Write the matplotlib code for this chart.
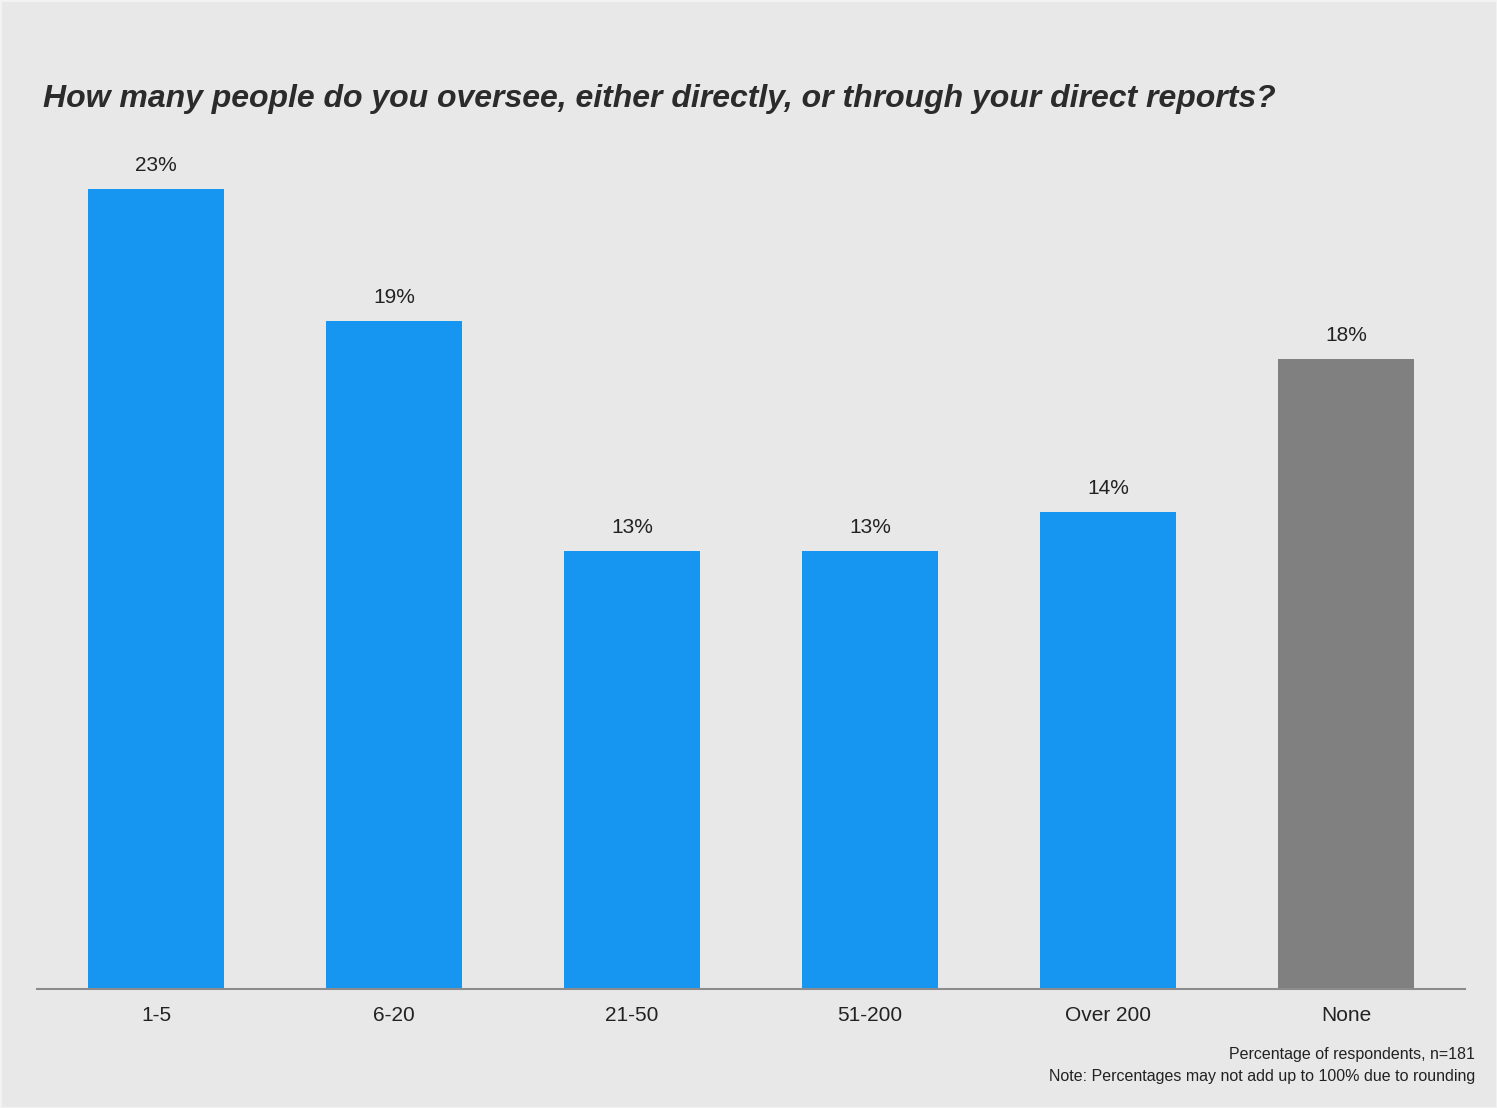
import matplotlib
matplotlib.use("Agg")
import matplotlib.pyplot as plt
from matplotlib.patches import Rectangle

# survey answers, percentage of respondents
categories = ["1-5", "6-20", "21-50", "51-200", "Over 200", "None"]
values = [23.0, 19.2, 12.6, 12.6, 13.7, 18.1]
bar_colors = ["#1696f0"] * 5 + ["#808080"]

title = "How many people do you oversee, either directly, or through your direct reports?"
note1 = "Percentage of respondents, n=181"
note2 = "Note: Percentages may not add up to 100% due to rounding"

bg = "#e8e8e8"
plt.rcParams['font.family'] = ['Liberation Sans', 'DejaVu Sans']

fig = plt.figure(figsize=(14.97, 11.08), dpi=100, facecolor=bg)
fig.patches.append(Rectangle((0, 0), 1, 1, transform=fig.transFigure,
                             fill=False, edgecolor="#f4f4f4", linewidth=2))

ax = fig.add_axes([37 / 1497, 119 / 1108, 1428 / 1497, 852.6 / 1108])
ax.set_facecolor(bg)

x = range(len(categories))
bars = ax.bar(x, values, width=0.571, color=bar_colors, zorder=2)
for b, v in zip(bars, values):
    ax.annotate(f"{v:.0f}%", (b.get_x() + b.get_width() / 2, v),
                xytext=(0, 10), textcoords="offset points",
                ha="center", va="bottom", fontsize=15, color="#222222")

ax.set_xlim(-0.5, len(categories) - 0.5)
ax.set_ylim(0, 24.5)
ax.set_xticks(list(x))
ax.set_xticklabels(categories, fontsize=15, color="#222222")
ax.tick_params(axis="x", length=0, pad=12)
ax.set_yticks([])
for s in ["top", "right", "left"]:
    ax.spines[s].set_visible(False)
ax.spines["bottom"].set_color("#8c8c8c")
ax.spines["bottom"].set_linewidth(1.5)

fig.text(43 / 1497, 1 - 99 / 1108, title, fontsize=23, fontweight="bold",
         fontstyle="italic", color="#2b2b2b", ha="left", va="center")
fig.text(1475 / 1497, 1 - 1055 / 1108, note1, fontsize=11.5, color="#222222",
         ha="right", va="center")
fig.text(1475 / 1497, 1 - 1076 / 1108, note2, fontsize=11.5, color="#222222",
         ha="right", va="center")

fig.savefig("out.png", dpi=100, facecolor=bg)
